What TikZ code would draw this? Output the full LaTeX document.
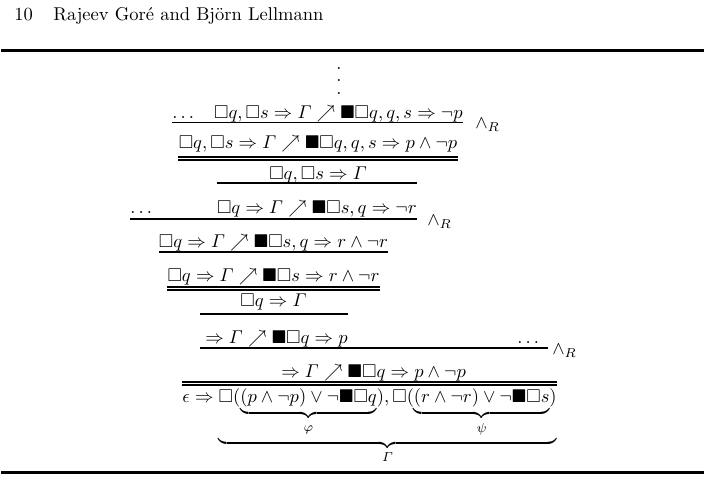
\documentclass[tikz,border=0pt]{standalone}
\usepackage{amsmath,amssymb}
\usetikzlibrary{positioning}
\newcommand{\tallvdots}{\vbox{\baselineskip=7pt \lineskiplimit=0pt
  \hbox{.}\hbox{.}\hbox{.}}}
\tikzset{
  seq/.style={
    anchor=base,
    inner sep=0pt,
    font=\normalsize
  },
  rname/.style={
    anchor=west,
    inner sep=0pt
  },
  rule/.style={
    line width=1pt},
  dblrule/.style={
    double, double distance=0.9pt, line width=0.8pt},
  pagerule/.style={
    line width=1.4pt}
}

\begin{document}
\begin{tikzpicture}[x=0.54pt, y=-0.54pt]
\useasboundingbox (0,0) rectangle (705,480);

%% ---- running head ----
\node[seq, anchor=base west] (pagenum) at (14,20) {10};
\node[seq, anchor=base west] (authors) at (53,20) {Rajeev Gor\'e and Bj\"orn Lellmann};
\draw[pagerule] (1,50.7) -- (704,50.7);

%% ---- top of the derivation ----
\node[inner sep=0pt] (vdotsA) at (339,81) {\tallvdots};

\node[seq, anchor=base west] (dotsA) at (172,118) {$\dots$};
\node[seq, anchor=base east] (premA) at (463,118)
  {$\Box q, \Box s \Rightarrow \varGamma \nearrow \blacksquare\Box q, q, s \Rightarrow \neg p$};
\draw[rule] (dotsA.west |- 0,122.5) -- (premA.east |- 0,122.5);
\node[rname] (andA) at (475,125) {$\land_R$};

\node[seq] (concA) at (318,148)
  {$\Box q, \Box s \Rightarrow \varGamma \nearrow \blacksquare\Box q, q, s \Rightarrow p \land \neg p$};
\draw[dblrule] (concA.west |- 0,158.4) -- (concA.east |- 0,158.4);

\node[seq] (seqB) at (318,179) {$\Box q, \Box s \Rightarrow \varGamma$};

%% ---- second conjunction ----
\node[seq, anchor=base west] (dotsC) at (130,213.5) {$\dots$};
\node[seq, anchor=base east] (premC) at (417,213.5)
  {$\Box q \Rightarrow \varGamma \nearrow \blacksquare\Box s, q \Rightarrow \neg r$};
\draw[rule] (premC.west |- 0,183.3) -- (premC.east |- 0,183.3);
\draw[rule] (dotsC.west |- 0,219) -- (premC.east |- 0,219);
\node[rname] (andC) at (427,222) {$\land_R$};

\node[seq] (concC) at (273.5,247)
  {$\Box q \Rightarrow \varGamma \nearrow \blacksquare\Box s, q \Rightarrow r \land \neg r$};
\draw[rule] (concC.west |- 0,252.3) -- (concC.east |- 0,252.3);

\node[seq] (seqD) at (273.5,281)
  {$\Box q \Rightarrow \varGamma \nearrow \blacksquare\Box s \Rightarrow r \land \neg r$};
\draw[dblrule] (seqD.west |- 0,288.4) -- (seqD.east |- 0,288.4);

\node[seq] (seqE) at (273.5,306.5) {$\Box q \Rightarrow \varGamma$};

%% ---- third conjunction ----
\node[seq, anchor=base east] (premF) at (348,343)
  {${}\Rightarrow \varGamma \nearrow \blacksquare\Box q \Rightarrow p$};
\node[seq, anchor=base west] (dotsF) at (517,343) {$\dots$};
\draw[rule] (premF.west |- 0,314) -- (premF.east |- 0,314);
\draw[rule] (premF.west |- 0,347.7) -- ([xshift=3pt]dotsF.east |- 0,347.7);
\node[rname] (andF) at (552,351) {$\land_R$};

\node[seq] (concF) at (371,377)
  {${}\Rightarrow \varGamma \nearrow \blacksquare\Box q \Rightarrow p \land \neg p$};

%% ---- root ----
\node[seq] (root) at (369.5,402)
  {$\epsilon \Rightarrow
    \underbrace{\Box(\underbrace{(p \land \neg p) \lor \neg\blacksquare\Box q}_{\varphi}),
    \Box(\underbrace{(r \land \neg r) \lor \neg\blacksquare\Box s}_{\psi})}_{\varGamma}$};
\draw[dblrule] (root.west |- 0,383.4) -- (root.east |- 0,383.4);

\draw[pagerule] (1,472.7) -- (704,472.7);
\end{tikzpicture}
\end{document}
